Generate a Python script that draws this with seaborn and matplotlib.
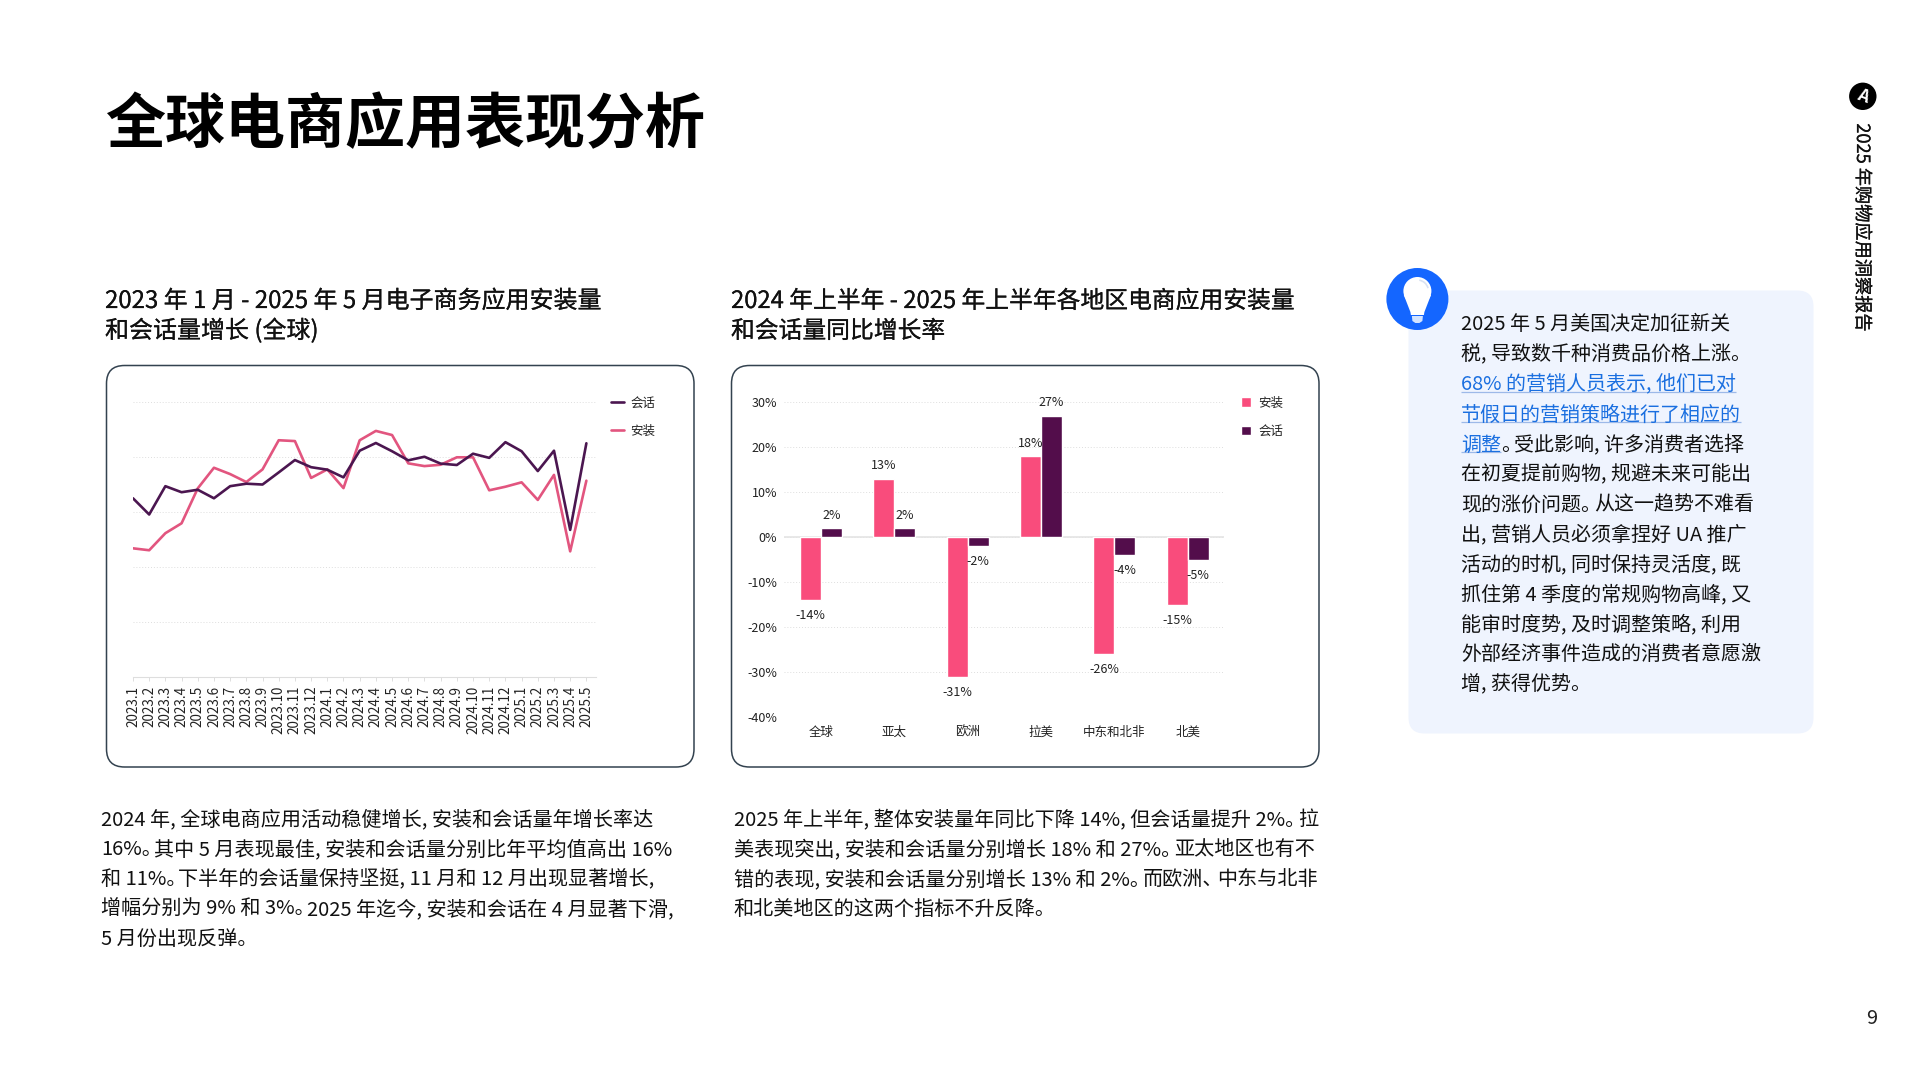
import re
import matplotlib
matplotlib.use("Agg")
import matplotlib.pyplot as plt
import matplotlib.patheffects as pe
from matplotlib.patches import FancyBboxPatch, Circle, Polygon, Patch, Arc
from matplotlib.lines import Line2D
import pandas as pd
import seaborn as sns

months = ["2023.1","2023.2","2023.3","2023.4","2023.5","2023.6","2023.7","2023.8","2023.9","2023.10","2023.11","2023.12",
          "2024.1","2024.2","2024.3","2024.4","2024.5","2024.6","2024.7","2024.8","2024.9","2024.10","2024.11","2024.12",
          "2025.1","2025.2","2025.3","2025.4","2025.5"]
sessions = [65.1,59.2,69.5,67.3,68.2,65.1,69.5,70.4,70.1,74.5,79.0,76.4,75.5,72.7,82.4,85.2,82.2,78.9,80.2,77.7,77.2,81.3,79.8,85.5,82.2,75.0,82.4,53.6,85.1]
installs = [46.9,46.2,52.4,56.0,68.7,76.2,73.9,71.0,75.6,86.2,85.9,72.5,75.6,68.8,86.2,89.6,88.1,77.8,76.8,77.3,80.0,80.0,68.0,69.3,70.9,64.5,73.6,45.8,71.5]

regions = ["全球","亚太","欧洲","拉美","中东和北非","北美"]
region_installs = [-14,13,-31,18,-26,-15]
region_sessions = [2,2,-2,27,-4,-5]

title = "全球电商应用表现分析"
head_left = ["2023 年 1 月 - 2025 年 5 月电子商务应用安装量", "和会话量增长 (全球)"]
head_mid = ["2024 年上半年 - 2025 年上半年各地区电商应用安装量", "和会话量同比增长率"]
body_left = ["2024 年, 全球电商应用活动稳健增长, 安装和会话量年增长率达",
             "16%。其中 5 月表现最佳, 安装和会话量分别比年平均值高出 16%",
             "和 11%。下半年的会话量保持坚挺, 11 月和 12 月出现显著增长,",
             "增幅分别为 9% 和 3%。2025 年迄今, 安装和会话在 4 月显著下滑,",
             "5 月份出现反弹。"]
body_mid = ["2025 年上半年, 整体安装量年同比下降 14%, 但会话量提升 2%。拉",
            "美表现突出, 安装和会话量分别增长 18% 和 27%。亚太地区也有不",
            "错的表现, 安装和会话量分别增长 13% 和 2%。而欧洲、中东与北非",
            "和北美地区的这两个指标不升反降。"]
side_top = ["2025 年 5 月美国决定加征新关", "税, 导致数千种消费品价格上涨。"]
side_blue = ["68% 的营销人员表示, 他们已对", "节假日的营销策略进行了相应的", "调整"]
side_tail = "。受此影响, 许多消费者选择"
side_rest = ["在初夏提前购物, 规避未来可能出", "现的涨价问题。从这一趋势不难看", "出, 营销人员必须拿捏好 UA 推广",
             "活动的时机, 同时保持灵活度, 既", "抓住第 4 季度的常规购物高峰, 又", "能审时度势, 及时调整策略, 利用",
             "外部经济事件造成的消费者意愿激", "增, 获得优势。"]
report_name = "2025 年购物应用洞察报告"
page_no = "9"

PINK_LINE, DARK_LINE = "#E2557F", "#4B1650"
PINK_BAR, DARK_BAR = "#F94C7C", "#530D4B"
BLUE, TEXT = "#1A6FE0", "#111111"
GRID = "#DEDEDE"
LABEL_PX = 12.5

sns.set_theme(style="white")
plt.rcParams["font.family"] = ["Noto Sans CJK SC", "DejaVu Sans"]

W, H = 1920, 1080
fig = plt.figure(figsize=(W/100, H/100), dpi=100, facecolor="white")
px = lambda p: p * 0.72
heavier = [pe.withStroke(linewidth=0.15, foreground=TEXT)]

bg = fig.add_axes([0, 0, 1, 1], zorder=0)
bg.set_xlim(0, W); bg.set_ylim(H, 0); bg.axis("off")
rend = fig.canvas.get_renderer()

def box(x0, y0, x1, y1, r, **kw):
    bg.add_patch(FancyBboxPatch((x0+r, y0+r), x1-x0-2*r, y1-y0-2*r,
                                boxstyle=f"round,pad={r},rounding_size={r}", **kw))

def label(x, y, s, size, color=TEXT, **kw):
    return bg.text(x, y, s, fontsize=px(size), color=color, va="baseline", ha="left", **kw)

def write_line(x, y, s, size=20.1, color=TEXT, stop_trim=6.5):
    """Draw one line; the CJK stop and enumeration comma are set narrower, as in the page."""
    for seg in re.findall(r"[^。、]*[。、]|[^。、]+", s):
        t = label(x, y, seg, size, color=color)
        x = t.get_window_extent(rend).x1
        if seg[-1] in "。、":
            x -= stop_trim
    return x

box(106.5, 365.5, 694, 767, 18, fc="white", ec="#33424F", lw=1.1)
box(731.5, 365.5, 1319, 767, 18, fc="white", ec="#33424F", lw=1.1)
box(1408.5, 290.5, 1813.5, 733.5, 16, fc="#EFF4FE", ec="none")

label(105, 143.5, title, 60, color="#000000", fontweight="bold")
for i, s in enumerate(head_left):
    label(105, 308 + 30*i, s, 24, path_effects=heavier)
for i, s in enumerate(head_mid):
    label(731, 308 + 30*i, s, 23.8, path_effects=heavier)
for i, s in enumerate(body_left):
    write_line(101, 825 + 30*i, s, stop_trim=8)
for i, s in enumerate(body_mid):
    write_line(733.5, 825 + 30*i, s)

# side panel
X0, Y0, P = 1461, 330.5, 30
for i, s in enumerate(side_top):
    write_line(X0, Y0 + P*i, s, size=20)
for i, s in enumerate(side_blue):
    y = Y0 + P*(2+i)
    x_end = write_line(X0, y, s, size=20, color=BLUE)
    bg.plot([X0, x_end], [y+1.5, y+1.5], color="#9DB9E8", lw=0.9, solid_capstyle="butt")
write_line(x_end, y, side_tail, size=20)
for i, s in enumerate(side_rest):
    write_line(X0, Y0 + P*(5+i), s, size=20)

# bulb
cx, cy = 1417.4, 299
bg.add_patch(Circle((cx, cy), 31, fc="#1466FF", ec="none", zorder=3))
bg.add_patch(Circle((cx, cy-8), 14, fc="white", ec="none", zorder=4))
bg.add_patch(Polygon([(cx-13.6, cy-4), (cx+13.6, cy-4), (cx+7, cy+13), (cx+6.5, cy+16), (cx-6.5, cy+16), (cx-7, cy+13)],
                     closed=True, fc="white", ec="none", zorder=4))
bg.add_patch(Polygon([(cx-5.5, cy+17), (cx+5.5, cy+17), (cx+5, cy+22), (cx+2, cy+24), (cx-2, cy+24), (cx-5, cy+22)],
                     closed=True, fc="#D3E4FF", ec="none", zorder=4))
bg.add_patch(Arc((cx, cy-8), 22, 22, theta1=280, theta2=345, color="#D9E2F2", lw=1.2, zorder=5))

# logo and running head
bg.add_patch(Circle((1862.8, 96.3), 13.7, fc="black", ec="none"))
bg.text(1862.8, 96.3, "A", color="white", fontsize=px(17), fontweight="bold", rotation=-20, ha="center", va="center")
bg.text(1862, 227, report_name, fontsize=px(18.2), color=TEXT, rotation=-90, ha="center", va="center", path_effects=heavier)
label(1866, 1024, page_no, 20, color="#222222")

# line chart
line_ax = fig.add_axes([132.5/W, 1-677.3/H, 463.1/W, 275/H], zorder=1)
line_ax.patch.set_visible(False)
frame = pd.DataFrame({"idx": list(range(len(months)))*2,
                      "value": installs + sessions,
                      "series": ["安装"]*len(months) + ["会话"]*len(months)})
sns.lineplot(data=frame, x="idx", y="value", hue="series", hue_order=["安装", "会话"],
             palette=[PINK_LINE, DARK_LINE], estimator=None, linewidth=1.9, legend=False, ax=line_ax)
line_ax.set_xlim(-0.03, 28.57); line_ax.set_ylim(0, 100)
line_ax.set_yticks(range(0, 101, 20)); line_ax.set_yticklabels([])
line_ax.set_xticks(range(len(months)))
line_ax.set_xticklabels(months, rotation=90, fontsize=px(13.5), color="#222222", va="top", ha="center")
line_ax.tick_params(axis="x", length=3, width=0.7, color=GRID, pad=3, bottom=True)
line_ax.tick_params(axis="y", length=0)
line_ax.grid(axis="y", color=GRID, lw=0.7, ls=(0, (1, 2)))
line_ax.set_xlabel(""); line_ax.set_ylabel("")
sns.despine(ax=line_ax, left=True)
line_ax.spines["bottom"].set_color(GRID); line_ax.spines["bottom"].set_linewidth(0.8)
line_handles = [Line2D([], [], color=DARK_LINE, lw=1.9), Line2D([], [], color=PINK_LINE, lw=1.9)]
line_ax.legend(line_handles, ["会话", "安装"], loc="upper left", frameon=False, fontsize=px(LABEL_PX),
               bbox_to_anchor=(606/W, 1-391.5/H), bbox_transform=fig.transFigure, borderaxespad=0, borderpad=0.4,
               handlelength=1.0, handletextpad=0.55, labelspacing=1.22, labelcolor="#222222")

# bar chart
bar_ax = fig.add_axes([784.3/W, 1-717.5/H, 440.1/W, 315.2/H], zorder=1)
bar_ax.patch.set_visible(False)
bars = pd.DataFrame({"region": regions*2, "value": region_installs + region_sessions,
                     "series": ["安装"]*6 + ["会话"]*6})
sns.barplot(data=bars, x="region", y="value", hue="series", hue_order=["安装", "会话"], order=regions,
            palette=[PINK_BAR, DARK_BAR], width=0.57, gap=0, saturation=1, legend=False, ax=bar_ax, zorder=3)
bar_ax.set_xlim(-0.5, 5.5); bar_ax.set_ylim(-40, 30)
bar_ax.set_yticks(range(-40, 31, 10))
bar_ax.set_yticklabels([f"{v}%" for v in range(-40, 31, 10)], fontsize=px(LABEL_PX), color="#222222")
bar_ax.tick_params(axis="y", length=0, pad=5)
bar_ax.tick_params(axis="x", length=0, pad=6, labelsize=px(LABEL_PX), labelcolor="#222222")
bar_ax.grid(axis="y", color=GRID, lw=0.7, ls=(0, (1, 2)))
bar_ax.set_axisbelow(True)
bar_ax.axhline(0, color="#E4E4E4", lw=1.2, zorder=2)
bar_ax.set_xlabel(""); bar_ax.set_ylabel("")
sns.despine(ax=bar_ax, left=True, bottom=True)
for c in bar_ax.containers:
    for ann in bar_ax.bar_label(c, fmt="%d%%", padding=px(6.5), fontsize=px(LABEL_PX), color="#222222"):
        if ann.get_text().startswith("-"):
            ann.xyann = (ann.xyann[0], ann.xyann[1] - px(2.4))
bar_handles = [Patch(fc=PINK_BAR), Patch(fc=DARK_BAR)]
bar_ax.legend(bar_handles, ["安装", "会话"], loc="upper left", frameon=False, fontsize=px(LABEL_PX),
              bbox_to_anchor=(1236/W, 1-391.5/H), bbox_transform=fig.transFigure, borderaxespad=0, borderpad=0.4,
              handlelength=0.8, handleheight=0.8, handletextpad=0.6, labelspacing=1.22, labelcolor="#222222")

fig.savefig("out.png", dpi=100)
